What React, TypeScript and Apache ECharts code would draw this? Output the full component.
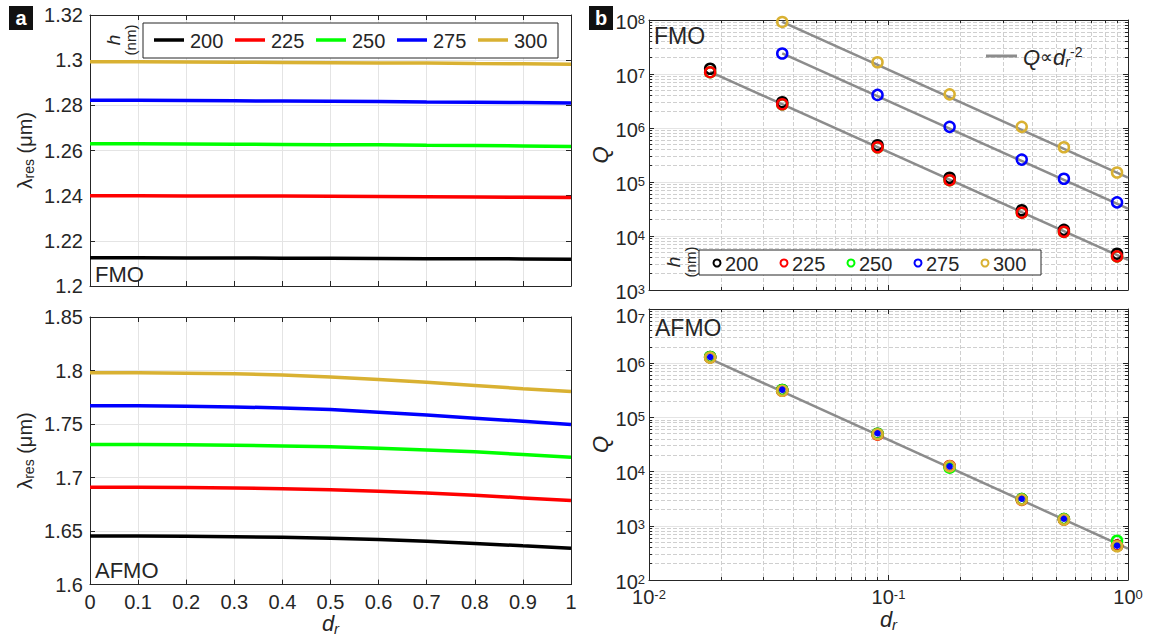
import React, { useEffect, useRef } from "react";
import * as echarts from "echarts";

// ---------- shared ----------
const hLabels = ["200", "225", "250", "275", "300"];
const hColors = ["#000000", "#ff0000", "#00ff00", "#0000ff", "#d9b132"];

// ---------- panel a : lambda_res vs d_r ----------
const drA = [0, 0.1, 0.2, 0.3, 0.4, 0.5, 0.6, 0.7, 0.8, 0.9, 1];
const fmoLam200 = [1.2125, 1.2125, 1.2124, 1.2124, 1.2123, 1.2123, 1.2122, 1.2121, 1.2121, 1.212, 1.2119];
const fmoLam225 = [1.24, 1.24, 1.2399, 1.2399, 1.2398, 1.2397, 1.2396, 1.2395, 1.2394, 1.2393, 1.2392];
const fmoLam250 = [1.263, 1.263, 1.2629, 1.2628, 1.2627, 1.2626, 1.2625, 1.2623, 1.2622, 1.262, 1.2618];
const fmoLam275 = [1.2822, 1.2822, 1.2821, 1.282, 1.2819, 1.2818, 1.2817, 1.2815, 1.2814, 1.2812, 1.281];
const fmoLam300 = [1.2993, 1.2993, 1.2992, 1.2991, 1.299, 1.2989, 1.2988, 1.2987, 1.2985, 1.2984, 1.2982];

const afmoLam200 = [1.6455, 1.6455, 1.6452, 1.6448, 1.6442, 1.6433, 1.6421, 1.6405, 1.6385, 1.6362, 1.634];
const afmoLam225 = [1.691, 1.691, 1.6907, 1.6903, 1.6896, 1.6886, 1.6872, 1.6855, 1.6835, 1.681, 1.6785];
const afmoLam250 = [1.731, 1.731, 1.7307, 1.7303, 1.7296, 1.7287, 1.7273, 1.7257, 1.724, 1.7215, 1.719];
const afmoLam275 = [1.767, 1.767, 1.7666, 1.766, 1.765, 1.7635, 1.761, 1.7585, 1.7555, 1.7525, 1.7495];
const afmoLam300 = [1.798, 1.798, 1.7975, 1.797, 1.7958, 1.794, 1.7915, 1.789, 1.786, 1.783, 1.7805];

// ---------- panel b : Q vs d_r ----------
const drB = [0.018, 0.036, 0.09, 0.18, 0.36, 0.54, 0.9];
const fmoQ200 = [1.25e7, 3.0e6, 4.8e5, 1.2e5, 3.0e4, 1.3e4, 4.7e3];
const fmoQ225 = [1.08e7, 2.75e6, 4.4e5, 1.08e5, 2.7e4, 1.2e4, 4.2e3];
const fmoQ250 = [1.08e7, 2.75e6, 4.4e5, 1.08e5, 2.7e4, 1.2e4, 4.2e3];
const fmoQ275 = [null, 2.4e7, 4.1e6, 1.05e6, 2.6e5, 1.15e5, 4.2e4];
const fmoQ300 = [null, 9.2e7, 1.65e7, 4.2e6, 1.05e6, 4.4e5, 1.5e5];

const afmoQ200 = [1.3e6, 3.2e5, 5.0e4, 1.25e4, 3.1e3, 1.33e3, 4.3e2];
const afmoQ225 = [1.28e6, 3.1e5, 4.8e4, 1.27e4, 3.0e3, 1.3e3, 4.3e2];
const afmoQ250 = [1.3e6, 3.2e5, 5.0e4, 1.18e4, 3.1e3, 1.33e3, 5.3e2];
const afmoQ275 = [1.3e6, 3.25e5, 5.1e4, 1.25e4, 3.15e3, 1.35e3, 4.3e2];
const afmoQ300 = [1.27e6, 3.1e5, 4.9e4, 1.25e4, 3.05e3, 1.3e3, 4.2e2];

// fitted Q ∝ d_r^-2 lines (end points)
const fitX18 = [0.018, 1];
const fitX36 = [0.036, 1];
const fmoFitLow = [1.1e7, 3.6e3];
const fmoFitMid = [2.4e7, 3.2e4];
const fmoFitHigh = [9.2e7, 1.2e5];
const afmoFit = [1.2e6, 3.8e2];

// ---------- styling ----------
const FF = "'Liberation Sans', Arial, Helvetica, sans-serif";
const TXT = "#262626";
const GRID = "#e4e4e4";
const MINOR = "#cfcfcf";
const FITC = "#8c8c8c";

const pairs = (xs: number[], ys: (number | null)[]) =>
  xs.map((x, i) => [x, ys[i]]).filter((p) => p[1] !== null);

const axisLine = { show: true, onZero: false, lineStyle: { color: TXT, width: 1 } };
const tickIn = { show: true, inside: true, length: 5, lineStyle: { color: TXT } };
const minorTickIn = { show: true, splitNumber: 9, length: 3, lineStyle: { color: TXT } };

const nameRich = {
  i: { fontSize: 22, fontStyle: "italic", fontFamily: FF, color: TXT },
  s: { fontSize: 15, fontStyle: "italic", fontFamily: FF, color: TXT, verticalAlign: "bottom", padding: [10, 0, 0, 0] },
};
const lamRich = {
  l: { fontSize: 21, fontFamily: FF, color: TXT },
  s: { fontSize: 14, fontFamily: FF, color: TXT, verticalAlign: "bottom", padding: [9, 0, 0, 0] },
  n: { fontSize: 20, fontFamily: FF, color: TXT },
};
const powRich = {
  b: { fontSize: 20, lineHeight: 15, fontFamily: FF, color: TXT, padding: [3, 0, 0, 0] },
  p: { fontSize: 13, lineHeight: 10, fontFamily: FF, color: TXT, verticalAlign: "top" },
  bb: { fontSize: 20, lineHeight: 15, fontFamily: FF, color: TXT, padding: [13, 0, 0, 0] },
  pp: { fontSize: 13, lineHeight: 10, fontFamily: FF, color: TXT, verticalAlign: "top", padding: [10, 0, 0, 0] },
};
const powFmt = (v: number) => `{b|10}{p|${Math.round(Math.log10(v))}}`;
// top label of the lower panel sits a little lower, as in the original
const powFmtLow = (v: number) => {
  const e = Math.round(Math.log10(v));
  return e === 7 ? `{bb|10}{pp|${e}}` : `{b|10}{p|${e}}`;
};

const linX = (gi: number, labels: boolean) => ({
  type: "value", gridIndex: gi, min: 0, max: 1, interval: 0.1,
  axisLine, axisTick: tickIn,
  axisLabel: { show: labels, fontSize: 20, color: TXT, fontFamily: FF, margin: 7 },
  splitLine: { show: true, lineStyle: { color: GRID } },
  name: labels ? "{i|d}{s|r}" : "", nameLocation: "middle", nameGap: 22,
  nameTextStyle: { rich: nameRich },
});
const linXTop = (gi: number) => ({
  type: "value", gridIndex: gi, position: "top", min: 0, max: 1, interval: 0.1,
  axisLine, axisTick: tickIn, axisLabel: { show: false }, splitLine: { show: false },
});
const linY = (gi: number, min: number, max: number, interval: number) => ({
  type: "value", gridIndex: gi, min, max, interval,
  axisLine, axisTick: tickIn,
  axisLabel: { fontSize: 20, color: TXT, fontFamily: FF, margin: 7 },
  splitLine: { show: true, lineStyle: { color: GRID } },
  name: "{l|λ}{s|res}{n| (μm)}", nameLocation: "middle", nameGap: 54, nameRotate: 90,
  nameTextStyle: { rich: lamRich },
});
const linYRight = (gi: number, min: number, max: number, interval: number) => ({
  type: "value", gridIndex: gi, position: "right", min, max, interval,
  axisLine, axisTick: tickIn, axisLabel: { show: false }, splitLine: { show: false },
});
const logX = (gi: number, labels: boolean) => ({
  type: "log", logBase: 10, gridIndex: gi, min: 0.01, max: 1,
  axisLine, axisTick: tickIn, minorTick: minorTickIn,
  axisLabel: { show: labels, formatter: powFmt, rich: powRich, margin: 8 },
  splitLine: { show: true, lineStyle: { color: GRID } },
  minorSplitLine: { show: true, lineStyle: { color: MINOR, type: "dashed" } },
  name: labels ? "{i|d}{s|r}" : "", nameLocation: "middle", nameGap: 27,
  nameTextStyle: { rich: nameRich },
});
const logXTop = (gi: number) => ({
  type: "log", logBase: 10, gridIndex: gi, position: "top", min: 0.01, max: 1,
  axisLine, axisTick: tickIn, minorTick: minorTickIn,
  axisLabel: { show: false }, splitLine: { show: false }, minorSplitLine: { show: false },
});
const logY = (gi: number, min: number, max: number, fmt: (v: number) => string) => ({
  type: "log", logBase: 10, gridIndex: gi, min, max,
  axisLine, axisTick: tickIn, minorTick: minorTickIn,
  axisLabel: { formatter: fmt, rich: powRich, margin: 4 },
  splitLine: { show: true, lineStyle: { color: GRID } },
  minorSplitLine: { show: true, lineStyle: { color: MINOR, type: "dashed" } },
  name: "Q", nameLocation: "middle", nameGap: 30, nameRotate: 90,
  nameTextStyle: { fontSize: 22, fontStyle: "italic", fontFamily: FF, color: TXT },
});
const logYRight = (gi: number, min: number, max: number) => ({
  type: "log", logBase: 10, gridIndex: gi, position: "right", min, max,
  axisLine, axisTick: tickIn, minorTick: minorTickIn,
  axisLabel: { show: false }, splitLine: { show: false }, minorSplitLine: { show: false },
});

const lineSeries = (gi: number, arrs: number[][]) =>
  arrs.map((d, i) => ({
    type: "line", name: hLabels[i], xAxisIndex: gi, yAxisIndex: gi, data: pairs(drA, d),
    showSymbol: false, symbol: "none", silent: true, z: 3,
    lineStyle: { color: hColors[i], width: 3.5 },
  }));

const fitSeries = (gi: number, xs: number[], ys: number[]) => ({
  type: "line", xAxisIndex: gi, yAxisIndex: gi, data: pairs(xs, ys),
  showSymbol: false, symbol: "none", silent: true, z: 3,
  lineStyle: { color: FITC, width: 2.5 },
});

const scatterSeries = (gi: number, d: (number | null)[], i: number, size = 10, fill = "rgba(0,0,0,0)", z = 4) => ({
  type: "scatter", name: hLabels[i], xAxisIndex: gi, yAxisIndex: gi, data: pairs(drB, d),
  symbol: "circle", symbolSize: size, silent: true, z,
  itemStyle: { color: fill, borderColor: hColors[i], borderWidth: 2.5, opacity: 1 },
});

// ---------- graphic helpers ----------
const txt = (x: number, y: number, text: string, extra: any = {}, el: any = {}) => ({
  type: "text", x, y, z: 100, ...el,
  style: { text, fill: TXT, fontFamily: FF, fontSize: 20, align: "left", verticalAlign: "middle", ...extra },
});

const legendA: any[] = [
  { type: "rect", z: 99, shape: { x: 143, y: 23, width: 415, height: 35 }, style: { fill: "#fff", stroke: TXT, lineWidth: 1 } },
  {
    type: "text", x: 121, y: 40, rotation: Math.PI / 2, z: 100,
    style: {
      text: "{i|h}\n{n|(nm)}", align: "center", verticalAlign: "middle",
      rich: {
        i: { fontSize: 19, fontStyle: "italic", fontFamily: FF, fill: TXT, align: "center" },
        n: { fontSize: 15, fontFamily: FF, fill: TXT, align: "center" },
      },
    },
  },
];
hLabels.forEach((h, i) => {
  const x0 = 154 + i * 81;
  legendA.push({ type: "line", z: 100, shape: { x1: x0, y1: 40, x2: x0 + 30, y2: 40 }, style: { stroke: hColors[i], lineWidth: 3.5 } });
  legendA.push(txt(x0 + 36, 41, h));
});

const legendB: any[] = [
  { type: "rect", z: 99, shape: { x: 699, y: 250, width: 342, height: 25 }, style: { fill: "#fff", stroke: TXT, lineWidth: 1 } },
  {
    type: "text", x: 681, y: 262, rotation: Math.PI / 2, z: 100,
    style: {
      text: "{i|h}\n{n|(nm)}", align: "center", verticalAlign: "middle",
      rich: {
        i: { fontSize: 19, fontStyle: "italic", fontFamily: FF, fill: TXT, align: "center" },
        n: { fontSize: 15, fontFamily: FF, fill: TXT, align: "center" },
      },
    },
  },
];
hLabels.forEach((h, i) => {
  const cx = 717 + i * 67;
  legendB.push({ type: "circle", z: 100, shape: { cx, cy: 263, r: 3.5 }, style: { fill: "none", stroke: hColors[i], lineWidth: 2 } });
  legendB.push(txt(cx + 8, 264, h));
});

const qLegend: any[] = [
  { type: "line", z: 100, shape: { x1: 986, y1: 56, x2: 1017, y2: 56 }, style: { stroke: FITC, lineWidth: 3 } },
  {
    type: "text", x: 1023, y: 57, z: 100,
    style: {
      text: "{i|Q}{n|∝}{i|d}{s|r}{p|-2}", align: "left", verticalAlign: "middle",
      rich: {
        i: { fontSize: 22, fontStyle: "italic", fontFamily: FF, fill: TXT },
        n: { fontSize: 18, fontFamily: FF, fill: TXT },
        s: { fontSize: 14, fontStyle: "italic", fontFamily: FF, fill: TXT, verticalAlign: "bottom", padding: [10, 0, 0, 0] },
        p: { fontSize: 14, fontFamily: FF, fill: TXT, verticalAlign: "top", padding: [0, 0, 10, 0] },
      },
    },
  },
];

const panelTag = (x: number, y: number, t: string) => [
  { type: "rect", z: 100, shape: { x, y, width: 24, height: 24 }, style: { fill: "#111" } },
  {
    type: "text", x: x + 12, y: y + 12, z: 101,
    style: { text: t, fill: "#fff", fontFamily: FF, fontWeight: "bold", fontSize: 20, align: "center", verticalAlign: "middle" },
  },
];

const option: any = {
  animation: false,
  backgroundColor: "#ffffff",
  textStyle: { fontFamily: FF },
  grid: [
    { left: 90, top: 15, width: 481, height: 271 },
    { left: 90, top: 317, width: 481, height: 269 },
    { left: 649, top: 20, width: 479, height: 270 },
    { left: 649, top: 309, width: 479, height: 271 },
  ],
  xAxis: [
    linX(0, false), linX(1, true), logX(2, false), logX(3, true),
    linXTop(0), linXTop(1), logXTop(2), logXTop(3),
  ],
  yAxis: [
    linY(0, 1.2, 1.32, 0.02), linY(1, 1.6, 1.85, 0.05), logY(2, 1e3, 1e8, powFmt), logY(3, 1e2, 1e7, powFmtLow),
    linYRight(0, 1.2, 1.32, 0.02), linYRight(1, 1.6, 1.85, 0.05), logYRight(2, 1e3, 1e8), logYRight(3, 1e2, 1e7),
  ],
  series: [
    ...lineSeries(0, [fmoLam200, fmoLam225, fmoLam250, fmoLam275, fmoLam300]),
    ...lineSeries(1, [afmoLam200, afmoLam225, afmoLam250, afmoLam275, afmoLam300]),
    fitSeries(2, fitX18, fmoFitLow),
    fitSeries(2, fitX36, fmoFitMid),
    fitSeries(2, fitX36, fmoFitHigh),
    fitSeries(3, fitX18, afmoFit),
    scatterSeries(2, fmoQ250, 2),
    scatterSeries(2, fmoQ200, 0),
    scatterSeries(2, fmoQ225, 1),
    scatterSeries(2, fmoQ275, 3),
    scatterSeries(2, fmoQ300, 4),
    scatterSeries(3, afmoQ200, 0),
    scatterSeries(3, afmoQ225, 1),
    scatterSeries(3, afmoQ250, 2),
    scatterSeries(3, afmoQ300, 4, 10, "rgba(0,0,0,0)", 5),
    scatterSeries(3, afmoQ275, 3, 4, "#0000ff", 6),
  ],
  graphic: [
    ...panelTag(9, 6, "a"),
    ...panelTag(589, 6, "b"),
    ...legendA,
    ...legendB,
    ...qLegend,
    txt(95, 274, "FMO", { fontSize: 22 }),
    txt(95, 570, "AFMO", { fontSize: 22 }),
    txt(654, 36, "FMO", { fontSize: 23 }),
    txt(655, 328, "AFMO", { fontSize: 23 }),
  ],
};

export default function App() {
  const ref = useRef<HTMLDivElement>(null);
  useEffect(() => {
    const chart = echarts.init(ref.current as HTMLDivElement, null, { renderer: "svg" });
    chart.setOption(option);
    return () => chart.dispose();
  }, []);
  return (
    <div
      ref={ref}
      style={{ position: "absolute", left: 0, top: 0, width: 1162, height: 637, background: "#fff" }}
    />
  );
}
